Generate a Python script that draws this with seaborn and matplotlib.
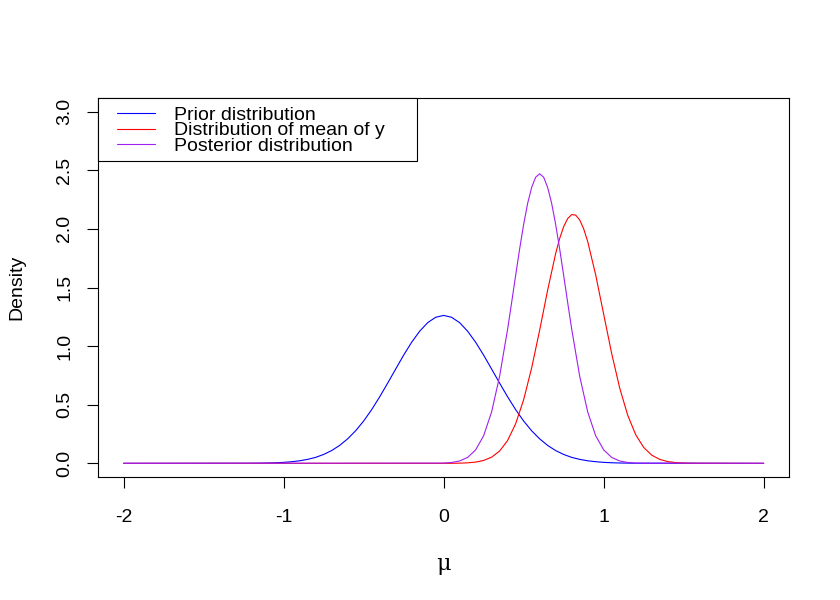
import numpy as np
import pandas as pd
import matplotlib
matplotlib.use("Agg")
import matplotlib.pyplot as plt
from matplotlib.patches import Rectangle
import seaborn as sns

# values (density of mu)
prior_x = [-2.0, -1.2, -1.1, -1.05, -1.0, -0.95, -0.9, -0.85, -0.8, -0.75, -0.7,
           -0.65, -0.6, -0.55, -0.5, -0.45, -0.4, -0.35, -0.3, -0.25, -0.2,
           -0.15, -0.1, -0.05, 0.0, 0.05, 0.1, 0.15, 0.2, 0.25, 0.3, 0.35, 0.4,
           0.45, 0.5, 0.55, 0.6, 0.65, 0.7, 0.75, 0.8, 0.85, 0.9, 0.95, 1.0,
           1.05, 1.1, 1.2, 2.0]
prior_y = [0.0, 0.001, 0.003, 0.005, 0.0085, 0.014, 0.022, 0.034, 0.051, 0.076, 0.109,
           0.153, 0.209, 0.278, 0.361, 0.458, 0.567, 0.684, 0.804, 0.923, 1.033,
           1.127, 1.200, 1.246, 1.262, 1.246, 1.200, 1.127, 1.033, 0.923, 0.804, 0.684, 0.567,
           0.458, 0.361, 0.278, 0.209, 0.153, 0.109, 0.076, 0.051, 0.034, 0.022, 0.014, 0.0085,
           0.005, 0.003, 0.001, 0.0]

ybar_x = [-2.0, 0.0, 0.05, 0.1, 0.15, 0.2, 0.25, 0.3, 0.35, 0.4, 0.45, 0.5, 0.55,
          0.6, 0.65, 0.7, 0.725, 0.75, 0.775, 0.8, 0.825, 0.85, 0.875, 0.9, 0.95,
          1.0, 1.05, 1.1, 1.15, 1.2, 1.25, 1.3, 1.35, 1.4, 1.45, 1.5, 1.55, 1.6, 2.0]
ybar_y = [0.0, 0.0001, 0.0006, 0.0017, 0.0044, 0.0108, 0.0248, 0.0530, 0.1055, 0.1955, 0.338, 0.543, 0.814,
          1.136, 1.478, 1.790, 1.918, 2.019, 2.088, 2.122, 2.118, 2.077, 2.001, 1.894, 1.609,
          1.273, 0.938, 0.644, 0.412, 0.245, 0.136, 0.0704, 0.0339, 0.0152, 0.0064, 0.0025, 0.0008, 0.0003, 0.0]

post_x = [-2.0, 0.0, 0.05, 0.1, 0.15, 0.2, 0.25, 0.3, 0.35, 0.4, 0.425, 0.45, 0.475,
          0.5, 0.525, 0.55, 0.575, 0.6, 0.625, 0.65, 0.675, 0.7, 0.725, 0.75, 0.775,
          0.8, 0.85, 0.9, 0.95, 1.0, 1.05, 1.1, 1.15, 1.2, 2.0]
post_y = [0.0, 0.0025, 0.0075, 0.0205, 0.0509, 0.115, 0.236, 0.440, 0.745, 1.147, 1.373, 1.604, 1.830,
          2.039, 2.218, 2.354, 2.441, 2.470, 2.441, 2.354, 2.218, 2.039, 1.830, 1.604, 1.373,
          1.147, 0.745, 0.440, 0.236, 0.115, 0.0509, 0.0205, 0.0075, 0.0025, 0.0]

labels = ["Prior distribution", "Distribution of mean of y", "Posterior distribution"]
colors = ["blue", "red", "#A020F0"]
x_ticks = [-2, -1, 0, 1, 2]
y_ticks = [0.0, 0.5, 1.0, 1.5, 2.0, 2.5, 3.0]

sns.set_style("ticks")
plt.rcParams["font.family"] = ["Liberation Sans", "DejaVu Sans"]
plt.rcParams["font.size"] = 14
plt.rcParams["text.color"] = "black"
plt.rcParams["axes.labelcolor"] = "black"

fig = plt.figure(figsize=(8.4, 6), dpi=100)
ax = fig.add_axes([0.1167, 0.2043, 0.8229, 0.633])

curves = [(prior_x, prior_y), (ybar_x, ybar_y), (post_x, post_y)]
for (xs, ys), lab, col in zip(curves, labels, colors):
    df = pd.DataFrame({"mu": xs, "density": ys})
    sns.lineplot(data=df, x="mu", y="density", color=col, linewidth=0.8,
                 sort=False, estimator=None, label=lab, ax=ax, legend=False)

ax.set_xlim(-2.16, 2.16)
ax.set_ylim(-0.12, 3.12)
ax.set_xticks(x_ticks)
ax.set_xticklabels([f"{t:d}" for t in x_ticks])
ax.set_yticks(y_ticks)
ax.set_yticklabels([f"{t:.1f}" for t in y_ticks], rotation=90, va="center")
ax.tick_params(length=8, width=0.8, color="black", labelsize=14, labelcolor="black")
ax.tick_params(axis="x", pad=14.5)
ax.tick_params(axis="y", pad=10)
for sp in ax.spines.values():
    sp.set_visible(True)
    sp.set_linewidth(0.8)
    sp.set_color("black")

ax.set_xlabel("μ", fontsize=16, family=["DejaVu Serif"], labelpad=20)
ax.set_ylabel("Density", fontsize=14, labelpad=22)

# legend box (R style)
ax.add_patch(Rectangle((0, 0.833), 0.4615, 0.167, transform=ax.transAxes,
                       facecolor="white", edgecolor="black", linewidth=0.8,
                       zorder=4.5, clip_on=False))
leg = ax.legend(loc="upper left", bbox_to_anchor=(0.013, 1.002), borderpad=0,
                frameon=False, fontsize=14, handlelength=1.95, handletextpad=1.0,
                labelspacing=-0.12, labelcolor="black")
leg.set_zorder(5)

fig.savefig("out.png", dpi=100, facecolor="white")
